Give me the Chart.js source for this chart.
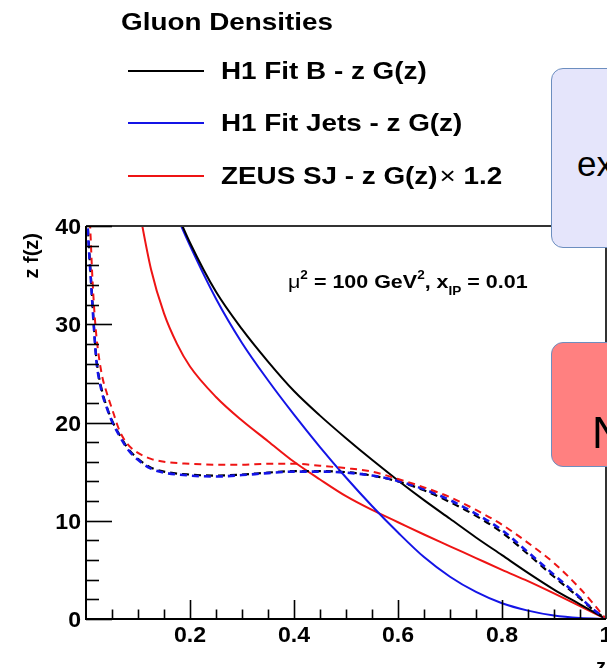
<!DOCTYPE html>
<html>
<head>
<meta charset="utf-8">
<script src="https://cdn.jsdelivr.net/npm/chart.js@4.4.1/dist/chart.umd.min.js"></script>
<style>
    html, body { margin: 0; padding: 0; background: #fff; overflow: hidden; }
    #wrap { position: relative; width: 607px; height: 668px; overflow: hidden; }
    #plot { position: absolute; left: 0; top: 0; }
    .note {
        position: absolute;
        box-sizing: border-box;
        border: 1px solid #6c8ebf;
        border-radius: 12px;
        font-family: "Liberation Sans", Arial, sans-serif;
        color: #000;
    }
    .note span { position: absolute; line-height: 1; white-space: nowrap; }
    #noteEx { left: 551px; top: 68px; width: 90px; height: 180px; background: #e5e5fb; }
    #noteEx span { left: 25px; top: 77px; font-size: 35px; }
    #noteN { left: 551px; top: 342px; width: 90px; height: 125px; background: #ff8080; }
    #noteN span { left: 40px; top: 68px; font-size: 44px; }
</style>
</head>
<body>
<div id="wrap">
    <canvas id="plot" width="607" height="668"></canvas>
    <div class="note" id="noteEx"><span>ex</span></div>
    <div class="note" id="noteN"><span>N</span></div>
</div>
<script>
// ---------- Data ----------
const zSolid = [0.1, 0.125, 0.15, 0.175, 0.2, 0.25, 0.3, 0.35, 0.4, 0.45, 0.5,
                0.55, 0.6, 0.65, 0.7, 0.75, 0.8, 0.85, 0.9, 0.95, 1.0];
const fitB    = [null, null, 44.6, 41.3, 38.3, 33.3, 29.5, 26.2, 23.2, 20.7, 18.4,
                 16.2, 14.1, 12.1, 10.2, 8.3, 6.5, 4.7, 3.0, 1.5, 0];
const fitJets = [null, null, 44.3, 41.0, 38.0, 32.6, 28.1, 24.3, 20.8, 17.5, 14.4,
                 11.5, 8.8, 6.3, 4.3, 2.75, 1.6, 0.85, 0.35, 0.1, 0];
const zeusSJ  = [42.3, 35.6, 31.1, 28.0, 25.7, 22.6, 20.2, 18.1, 16.0, 14.2, 12.5,
                 11.1, 9.85, 8.6, 7.4, 6.2, 5.0, 3.85, 2.6, 1.3, 0];

const zDashed = [0.002, 0.005, 0.01, 0.015, 0.02, 0.03, 0.04, 0.05, 0.065, 0.08, 0.1,
                 0.125, 0.15, 0.2, 0.25, 0.3, 0.35, 0.4, 0.45, 0.5, 0.55, 0.6, 0.65,
                 0.7, 0.75, 0.8, 0.85, 0.9, 0.95, 0.975, 1.0];
const dashedB    = [41.5, 38.5, 34.3, 30.0, 26.5, 23.4, 21.6, 20.2, 18.7, 17.4, 16.3,
                    15.4, 15.0, 14.7, 14.6, 14.7, 14.9, 15.05, 15.05, 14.95, 14.6, 14.0,
                    13.1, 11.9, 10.5, 8.8, 6.6, 4.3, 2.1, 0.95, 0];
const dashedJets = [41.0, 38.2, 34.0, 29.8, 26.3, 23.2, 21.5, 20.1, 18.6, 17.3, 16.2,
                    15.3, 14.9, 14.6, 14.5, 14.65, 14.85, 15.0, 15.0, 14.9, 14.6, 14.05,
                    13.2, 12.1, 10.7, 9.05, 6.8, 4.5, 2.2, 1.0, 0];
const dashedZeus = [60, 46, 37.5, 32.2, 28.8, 25.0, 23.0, 21.4, 19.1, 17.8, 16.9,
                    16.3, 16.0, 15.8, 15.7, 15.7, 15.8, 15.8, 15.6, 15.35, 15.0, 14.25,
                    13.4, 12.4, 11.1, 9.6, 7.75, 5.7, 3.1, 1.6, 0];

const legendLabels = ['H1 Fit B - z G(z)', 'H1 Fit Jets - z G(z)', 'ZEUS SJ - z G(z)'];
const xTicks = [0.2, 0.4, 0.6, 0.8, 1];
const xTickLabels = ['0.2', '0.4', '0.6', '0.8', '1'];
const yTicks = [0, 10, 20, 30, 40];

const BLACK = '#000000';
const BLUE = '#1414e6';
const RED = '#ee1414';
const FONT = '"Liberation Sans", Arial, sans-serif';

function points(zs, ys) {
    return zs.map((z, i) => ({ x: z, y: ys[i] }));
}

function solid(label, ys, color) {
    return {
        label: label,
        data: points(zSolid, ys),
        borderColor: color,
        borderWidth: 2,
        pointRadius: 0,
        cubicInterpolationMode: 'monotone',
        fill: false
    };
}

function dashed(ys, color, offset, width) {
    return {
        label: '',
        data: points(zDashed, ys),
        borderColor: color,
        borderWidth: width,
        borderDash: [7, 5],
        borderDashOffset: offset,
        pointRadius: 0,
        cubicInterpolationMode: 'monotone',
        fill: false,
        inLegend: false
    };
}

// draws text stretched along x
function wideText(ctx, text, x, y, sx, align) {
    const w = ctx.measureText(text).width * sx;
    let left = x;
    if (align === 'center') left = x - w / 2;
    if (align === 'right') left = x - w;
    ctx.save();
    ctx.translate(left, y);
    ctx.scale(sx, 1);
    ctx.textAlign = 'left';
    ctx.fillText(text, 0, 0);
    ctx.restore();
    return w;
}

// ---------- ROOT style frame, ticks, labels, legend ----------
const rootFrame = {
    id: 'rootFrame',
    afterDraw(chart) {
        const ctx = chart.ctx;
        const xs = chart.scales.x;
        const ys = chart.scales.y;
        const a = chart.chartArea;

        ctx.save();
        ctx.fillStyle = '#000';
        ctx.lineCap = 'butt';

        // frame
        ctx.lineWidth = 2;
        ctx.strokeStyle = '#333';
        ctx.beginPath();
        ctx.moveTo(a.left, a.top);
        ctx.lineTo(a.right, a.top);
        ctx.lineTo(a.right, a.bottom);
        ctx.stroke();

        ctx.strokeStyle = '#000';
        ctx.beginPath();
        ctx.moveTo(a.left, a.top);
        ctx.lineTo(a.left, a.bottom);
        ctx.lineTo(a.right, a.bottom);
        ctx.stroke();

        // y ticks, drawn inwards
        ctx.lineWidth = 1.6;
        for (let v = 0; v <= 40; v += 2) {
            const py = Math.round(ys.getPixelForValue(v)) + 0.5;
            const len = v % 10 === 0 ? 26 : 13;
            ctx.beginPath();
            ctx.moveTo(a.left, py);
            ctx.lineTo(a.left + len, py);
            ctx.stroke();
        }
        // x ticks
        for (let i = 1; i < 20; i++) {
            const v = i * 0.05;
            const px = Math.round(xs.getPixelForValue(v)) + 0.5;
            const len = i % 4 === 0 ? 19 : 9.5;
            ctx.beginPath();
            ctx.moveTo(px, a.bottom);
            ctx.lineTo(px, a.bottom - len);
            ctx.stroke();
        }

        // tick labels
        ctx.font = 'bold 22px ' + FONT;
        ctx.textBaseline = 'alphabetic';
        yTicks.forEach(v => {
            wideText(ctx, String(v), a.left - 5, ys.getPixelForValue(v) + 8, 1.05, 'right');
        });
        xTicks.forEach((v, i) => {
            wideText(ctx, xTickLabels[i], xs.getPixelForValue(v), a.bottom + 23, 1.05, 'center');
        });

        // axis titles
        ctx.font = 'bold 20px ' + FONT;
        ctx.save();
        ctx.translate(38, a.top + 7);
        ctx.rotate(-Math.PI / 2);
        ctx.textAlign = 'right';
        ctx.fillText('z f(z)', 0, 0);
        ctx.restore();
        ctx.textAlign = 'right';
        ctx.fillText('z', a.right, 673);

        // scale annotation
        let x = 288;
        const base = 288;
        const parts = [
            ['\u03bc', '19px', 0],
            ['2', 'bold 12px', -9],
            [' = 100 GeV', 'bold 19px', 0],
            ['2', 'bold 12px', -9],
            [', x', 'bold 19px', 0],
            ['IP', 'bold 12px', 7],
            [' = 0.01', 'bold 19px', 0]
        ];
        ctx.textAlign = 'left';
        parts.forEach(([t, f, dy]) => {
            ctx.font = f + ' ' + FONT;
            x += wideText(ctx, t, x, base + dy, 1.13, 'left');
        });

        // legend
        const sx = 1.16;
        ctx.font = 'bold 24px ' + FONT;
        wideText(ctx, 'Gluon Densities', 121, 30, sx, 'left');
        const rows = [71, 123, 176];
        const solids = chart.data.datasets.filter(d => d.inLegend !== false);
        solids.forEach((ds, i) => {
            ctx.strokeStyle = ds.borderColor;
            ctx.lineWidth = 2;
            ctx.beginPath();
            ctx.moveTo(128, rows[i]);
            ctx.lineTo(204, rows[i]);
            ctx.stroke();
            ctx.font = 'bold 24px ' + FONT;
            let tx = 221 + wideText(ctx, legendLabels[i], 221, rows[i] + 8, sx, 'left');
            if (i === 2) {
                ctx.font = '24px ' + FONT;
                tx += wideText(ctx, '\u00d7', tx + 2, rows[i] + 8, sx, 'left') + 2;
                ctx.font = 'bold 24px ' + FONT;
                wideText(ctx, ' 1.2', tx, rows[i] + 8, sx, 'left');
            }
        });
        ctx.restore();
    }
};

new Chart(document.getElementById('plot'), {
    type: 'line',
    data: {
        datasets: [
            dashed(dashedZeus, RED, 0, 2),
            dashed(dashedJets, BLUE, 0, 2.6),
            dashed(dashedB, BLACK, 6, 2.2),
            solid(legendLabels[0], fitB, BLACK),
            solid(legendLabels[1], fitJets, BLUE),
            solid(legendLabels[2], zeusSJ, RED)
        ]
    },
    options: {
        responsive: false,
        devicePixelRatio: 1,
        animation: false,
        layout: { padding: { left: 86, right: 1, top: 226, bottom: 49 } },
        plugins: {
            legend: { display: false },
            tooltip: { enabled: false }
        },
        scales: {
            x: { type: 'linear', min: 0, max: 1, display: false },
            y: { type: 'linear', min: 0, max: 40, display: false }
        }
    },
    plugins: [rootFrame]
});
</script>
</body>
</html>
